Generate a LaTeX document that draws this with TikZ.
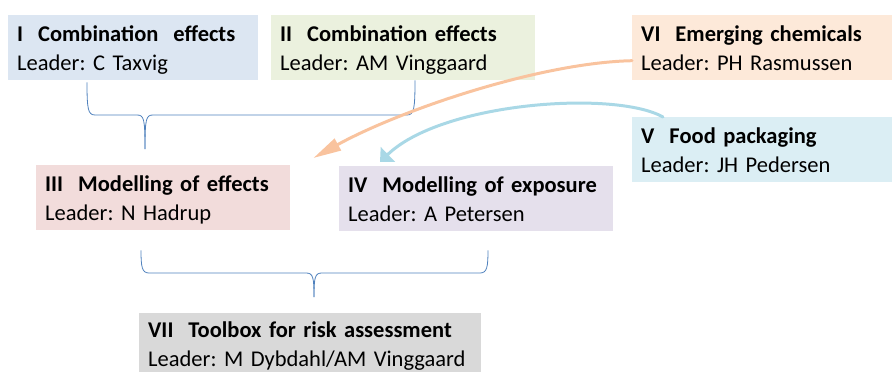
\documentclass[tikz,border=0pt]{standalone}
\usepackage{fontspec}
\setmainfont{Carlito}
\usetikzlibrary{arrows.meta,calc}
\frenchspacing

\definecolor{wpblue}{HTML}{DCE6F2}
\definecolor{wpgreen}{HTML}{EBF1DE}
\definecolor{wppeach}{HTML}{FDE9D9}
\definecolor{wpcyan}{HTML}{DBEEF4}
\definecolor{wppink}{HTML}{F2DCDB}
\definecolor{wplilac}{HTML}{E5E0EC}
\definecolor{wpgrey}{HTML}{D9D9D9}
\definecolor{bracecol}{HTML}{4F81BD}
\definecolor{feedorange}{HTML}{F9C39E}
\definecolor{feedblue}{HTML}{A9D8E6}

\tikzset{
    wpbox/.style={anchor=north west, inner xsep=9pt, inner ysep=0pt,
        minimum height=65pt, text height=26pt, text depth=39pt, align=left,
        font=\fontsize{22.5}{29}\selectfont},
    bracket/.style={draw=bracecol, line width=0.8pt},
    feed/.style={line width=3pt, line cap=round}
}

\begin{document}
\begin{tikzpicture}[x=1pt, y=-1pt]
            \useasboundingbox (0,0) rectangle (892,372);

            \foreach \nm/\x/\y/\w/\th/\col/\ttl/\ldr in {
                b1/8/15/232/26/wpblue/{I\ \ Combination\ \ effects}/{C Taxvig},
                b2/271/15/246/26/wpgreen/{II\ \ Combination effects}/{AM Vinggaard},
                b6/632/15/242/26/wppeach/{VI\ \ Emerging chemicals}/{PH Rasmussen},
                b5/632/117/242/26/wpcyan/{V\ \ Food packaging}/{JH Pedersen},
                b3/36/165/236/26/wppink/{III\ \ Modelling of effects}/{N Hadrup},
                b4/339/166/256/26/wplilac/{IV\ \ Modelling of exposure}/{A Petersen},
                b7/139/313/324/24/wpgrey/{VII\ \ Toolbox for risk assessment}/{M Dybdahl/AM Vinggaard}%
            } {
                \node[wpbox, fill=\col, text width=\w pt,
                      text height=\th pt, text depth=65pt-\th pt]
                    (\nm) at (\x,\y) {\mbox{\textbf{\ttl}}\\Leader: \ldr};
            }

            % braces
            \coordinate (l1) at ($(b1.south west)+(79,2)$);
            \coordinate (r1) at ($(b2.south west)+(144,0)$);
            \coordinate (t1) at (145,149);
            \coordinate (l2) at ($(b3.south west)+(105,20)$);
            \coordinate (r2) at ($(b4.south west)+(149,19)$);
            \coordinate (t2) at (314,297);

            \foreach \a/\b/\t/\h in {l1/r1/t1/115, l2/r2/t2/273} {
                \draw[bracket] (\a) .. controls ($(\a |- 0,\h)+(0,-6)$) and
                    ($(\a |- 0,\h)+(1,0)$) .. ($(\a |- 0,\h)+(8,0)$)
                    -- ($(\t |- 0,\h)+(-8,0)$) .. controls
                    ($(\t |- 0,\h)+(-1,0)$) and ($(\t |- 0,\h)+(0,4)$) .. (\t);
                \draw[bracket] (\b) .. controls ($(\b |- 0,\h)+(0,-6)$) and
                    ($(\b |- 0,\h)+(-1,0)$) .. ($(\b |- 0,\h)+(-8,0)$)
                    -- ($(\t |- 0,\h)+(8,0)$) .. controls
                    ($(\t |- 0,\h)+(1,0)$) and ($(\t |- 0,\h)+(0,4)$) .. (\t);
            }

            % feedback arrows
            \draw[feed, feedorange, -{Triangle[length=28pt, width=13pt]}]
                ($(b6.west)+(0,13)$) .. controls +(-92,2) and +(87,-48) ..
                ($(b3.north east)+(23,-7)$);
            \draw[feed, feedblue, -{Triangle[length=11pt, width=20pt]}]
                ($(b5.north west)+(31,0)$) .. controls +(-48,-27) and +(62,-60) ..
                ($(b4.north west)+(41,-4)$);
        \end{tikzpicture}
\end{document}
